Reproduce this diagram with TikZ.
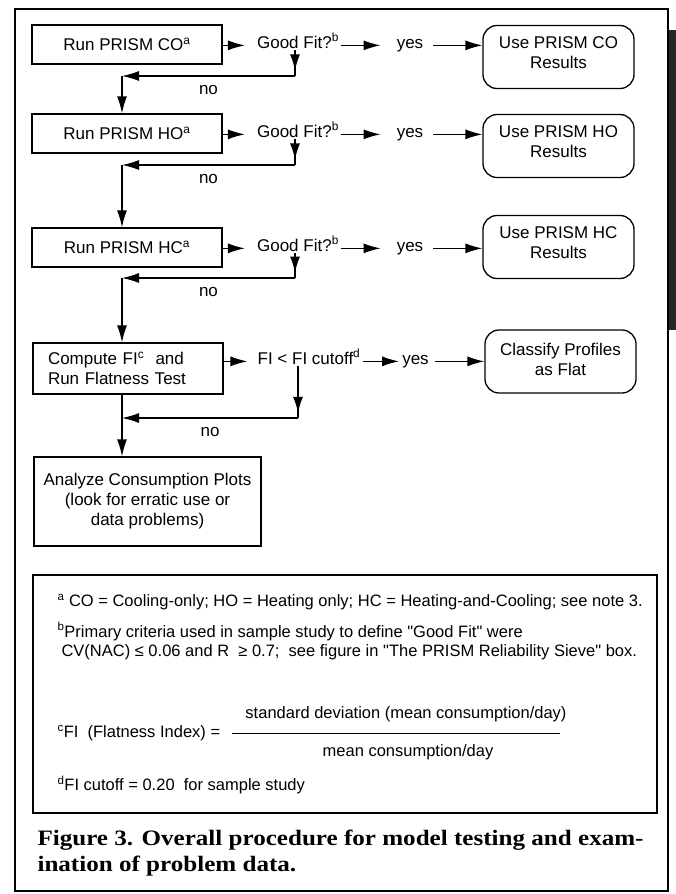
\documentclass[tikz,border=0pt]{standalone}
\usepackage{fontspec}
\setmainfont{Liberation Sans}
\newfontfamily\capfont[FakeStretch=1.14]{Liberation Serif}
\usetikzlibrary{arrows.meta,positioning,calc,decorations.markings}

\tikzset{
  stepbox/.style={draw,line width=1.3pt,minimum width=190pt,minimum height=39pt,inner sep=0pt},
  endbox/.style={draw,line width=1.3pt,rounded corners=14pt,minimum width=151pt,minimum height=63pt,align=center,inner sep=0pt},
  flowtext/.style={inner sep=2pt,anchor=base},
  arr/.style={-{Latex[length=17pt,width=10pt]},line width=1.3pt},
  midarr/.style={line width=1.3pt,postaction={decorate},
    decoration={markings,mark=at position #1 with {\arrow{Latex[length=16pt,width=10pt]}}}},
}

% one "run model / good fit" row
\newcommand \myrow[5]
{
\node[stepbox] (run#1) at (127,#2) {Run PRISM #3\textsuperscript{a}};
\node[flowtext] (test#1) at (298,#2+3.5) {Good Fit?\textsuperscript{b}};
\node[flowtext] (yes#1) at (410,#2+3.5) {yes};
\node[endbox] (use#1) at (558.5,#4) {Use PRISM #3\\Results\rule[-9pt]{0pt}{9pt}};
\draw[arr,shorten >=10pt] (test#1.mid west -| run#1.east) -- (test#1.mid west);
\draw[arr,shorten >=14pt] (test#1.mid east) -- (yes#1.mid west);
\draw[arr,shorten <=8pt] (yes#1.mid east) -- (yes#1.mid east -| use#1.west);
\coordinate (down#1) at (295,#5);
\coordinate (back#1) at (122,#5);
\draw[midarr=0.78] (test#1.south -| down#1) -- (down#1);
\draw[arr] (down#1) -- node[below=5pt] (no#1) {no} (back#1);
}

\begin{document}
\begin{tikzpicture}[x=1pt,y=-1pt,font=\fontsize{17}{20}\selectfont]
\useasboundingbox (0,0) rectangle (676,894);
\draw[line width=2.2pt] (15,9) rectangle (668,891);
\fill[black!85] (669,30) rectangle (676,330);

\myrow{1}{44.5}{CO}{57}{76}
\myrow{2}{133.5}{HO}{146}{165}
\myrow{3}{247.5}{HC}{247}{278}

% flatness test
\node[stepbox,minimum height=51pt,inner xsep=15pt,text width=160pt,align=left] (comp) at (128,368.5)
  {Compute FI\textsuperscript{c}\ \ and\\Run Flatness Test};
\node[flowtext] (flat) at (309,364) {FI < FI cutoff\textsuperscript{d}};
\node[flowtext] (yes4) at (415.5,364) {yes};
\node[endbox] (flatres) at (560.5,361.5) {Classify Profiles\\as Flat\rule[-4pt]{0pt}{4pt}};
\node[stepbox,minimum width=227pt,minimum height=89pt,align=center] (plots) at (147.5,501.5)
  {Analyze Consumption Plots\\(look for erratic use or\\data problems)};
\draw[arr,shorten >=8pt] (flat.mid west -| comp.east) -- (flat.mid west);
\draw[arr,shorten >=1pt] (flat.mid east) -- (yes4.mid west);
\draw[arr,shorten <=4pt] (yes4.mid east) -- (yes4.mid east -| flatres.west);
\coordinate (down4) at (298,418);
\coordinate (back4) at (122,418);
\draw[midarr=0.9] (flat.south -| down4) -- (down4);
\draw[arr] (down4) -- node[below=5pt] (no4) {no} (back4);

\draw[arr] (back1) -- (back1 |- run2.north);
\draw[arr] (back2) -- (back2 |- run3.north);
\draw[arr] (back3) -- (back3 |- comp.north);
\draw[arr] (comp.south -| back4) -- (back4 |- plots.north);

% notes
\begin{scope}[font=\fontsize{16.5}{19}\selectfont]
\draw[line width=1.3pt] (33,575) rectangle (657,813);
\node[anchor=west] (nota) at (54,602)
  {\textsuperscript{a} CO = Cooling-only; HO = Heating only; HC = Heating-and-Cooling; see note 3.};
\node[anchor=west,align=left] (notb) at (54,641)
  {\textsuperscript{b}Primary criteria used in sample study to define \textquotedbl Good Fit\textquotedbl{} were\\
   \hspace*{4pt}CV(NAC) ≤ 0.06 and R \ ≥ 0.7; \ see figure in \textquotedbl The PRISM Reliability Sieve\textquotedbl{} box.};
\node[anchor=west] (notc) at (54,733) {\textsuperscript{c}FI \ (Flatness Index) =};
\node (num) at (406,714) {standard deviation (mean consumption/day)};
\node (den) at (408,752) {mean consumption/day};
\coordinate (fracl) at (232,733);
\coordinate (fracr) at (560,733);
\draw[line width=1pt] (fracl) -- (fracr);
\node[anchor=west] (notd) at (54,785) {\textsuperscript{d}FI cutoff = 0.20 \ for sample study};
\end{scope}

\node[anchor=base west,align=left,font=\capfont\bfseries\fontsize{22}{26}\selectfont] (cap) at (34,871)
  {Figure 3. Overall procedure for model testing and exam-\\ination of problem data.};
\end{tikzpicture}
\end{document}
